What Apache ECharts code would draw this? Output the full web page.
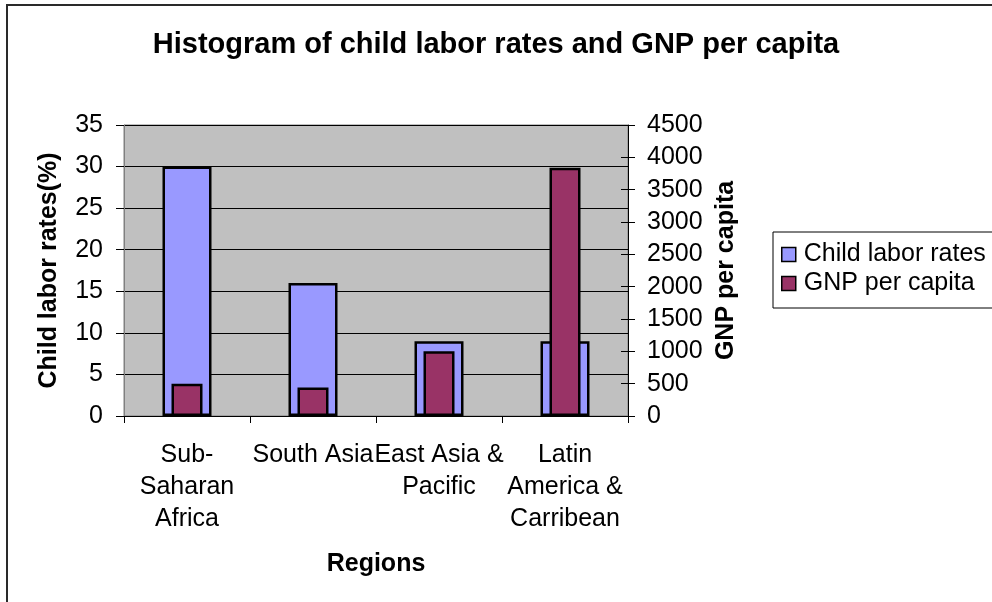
<!DOCTYPE html>
<html>
<head>
<meta charset="utf-8">
<script src="https://cdn.jsdelivr.net/npm/echarts@6/dist/echarts.min.js"></script>
<style>
  html, body { margin: 0; padding: 0; background: #fff; }
  #chart { width: 992px; height: 602px; }
</style>
</head>
<body>
<div id="chart"></div>
<script>
// Regions shown on the category axis (line breaks as drawn)
const regions = ['Sub-\nSaharan\nAfrica', 'South Asia', 'East Asia &\nPacific', 'Latin\nAmerica &\nCarribean'];
// Child labor rates, percent (left axis)
const childLaborRates = [30, 16, 9, 9];
// GNP per capita (right axis)
const gnpPerCapita = [500, 440, 1000, 3840];

const leftTicks = { min: 0, max: 35, interval: 5 };
const rightTicks = { min: 0, max: 4500, interval: 500 };

const FONT = '"Liberation Sans", Arial, sans-serif';
const LABEL_SIZE = 25;
const BLUE = '#9999FF';
const PLUM = '#993366';

const chart = echarts.init(document.getElementById('chart'), null, { renderer: 'canvas' });

const nameStyle = { fontFamily: FONT, fontSize: 25, fontWeight: 'bold', color: '#000' };

chart.setOption({
  animation: false,
  backgroundColor: '#ffffff',
  title: {
    text: 'Histogram of child labor rates and GNP per capita',
    left: 'center',
    top: 25,
    textStyle: { fontFamily: FONT, fontSize: 29, fontWeight: 'bold', color: '#000' }
  },
  legend: {
    orient: 'vertical',
    left: 773,
    top: 232,
    itemWidth: 14,
    itemHeight: 14,
    itemGap: 4,
    padding: [10, 12, 12, 8],
    borderColor: '#000',
    borderWidth: 1,
    backgroundColor: '#fff',
    icon: 'rect',
    itemStyle: { borderColor: '#000', borderWidth: 1.5 },
    textStyle: { fontFamily: FONT, fontSize: LABEL_SIZE, lineHeight: 25, color: '#000', padding: [0, 0, 0, 3] },
    data: ['Child labor rates', 'GNP per capita']
  },
  grid: {
    left: 124, right: 364, top: 125, bottom: 186,
    show: true,
    backgroundColor: '#C0C0C0',
    borderColor: '#808080',
    borderWidth: 1
  },
  graphic: [{
    type: 'rect',
    shape: { x: 7, y: 5, width: 1200, height: 800 },
    style: { fill: 'none', stroke: '#2a2a2a', lineWidth: 2 },
    silent: true,
    z: 100
  }],
  xAxis: [
    {
      type: 'category',
      data: regions,
      name: 'Regions',
      nameLocation: 'middle',
      nameGap: 136,
      nameTextStyle: nameStyle,
      axisLine: { lineStyle: { color: '#000', width: 1 } },
      axisTick: { show: true, length: 7, alignWithLabel: false, lineStyle: { color: '#000' } },
      axisLabel: {
        interval: 0,
        margin: 23,
        fontFamily: FONT,
        fontSize: LABEL_SIZE,
        lineHeight: 32,
        color: '#000'
      }
    },
    {
      // second category axis so the narrower GNP bars center on each region
      type: 'category',
      data: regions,
      show: false
    }
  ],
  yAxis: [
    {
      type: 'value',
      position: 'left',
      min: leftTicks.min, max: leftTicks.max, interval: leftTicks.interval,
      name: 'Child labor rates(%)',
      nameLocation: 'middle',
      nameGap: 62,
      nameTextStyle: nameStyle,
      axisLine: { show: true, lineStyle: { color: '#808080', width: 1 } },
      axisTick: { show: true, length: 8, lineStyle: { color: '#000' } },
      axisLabel: { margin: 21, fontFamily: FONT, fontSize: LABEL_SIZE, color: '#000' },
      splitLine: { show: true, lineStyle: { color: '#000', width: 1 } }
    },
    {
      type: 'value',
      position: 'right',
      min: rightTicks.min, max: rightTicks.max, interval: rightTicks.interval,
      name: 'GNP per capita',
      nameLocation: 'middle',
      nameGap: 85,
      nameTextStyle: nameStyle,
      axisLine: { show: true, lineStyle: { color: '#000', width: 1 } },
      axisTick: { show: true, length: 7, lineStyle: { color: '#000' } },
      axisLabel: {
        margin: 19, fontFamily: FONT, fontSize: LABEL_SIZE, color: '#000',
        formatter: v => String(v)
      },
      splitLine: { show: false }
    },
    {
      // inner half of the crossing ticks on the right axis
      type: 'value',
      position: 'right',
      min: rightTicks.min, max: rightTicks.max, interval: rightTicks.interval,
      axisLine: { show: false },
      axisTick: { show: true, inside: true, length: 7, lineStyle: { color: '#000' } },
      axisLabel: { show: false },
      splitLine: { show: false }
    }
  ],
  series: [
    {
      name: 'Child labor rates',
      type: 'bar',
      xAxisIndex: 0,
      yAxisIndex: 0,
      data: childLaborRates,
      barWidth: 49,
      itemStyle: { color: BLUE, borderColor: '#000', borderWidth: 2.5 },
      z: 2
    },
    {
      name: 'GNP per capita',
      type: 'bar',
      xAxisIndex: 1,
      yAxisIndex: 1,
      data: gnpPerCapita,
      barWidth: 31,
      itemStyle: { color: PLUM, borderColor: '#000', borderWidth: 2.5 },
      z: 3
    }
  ]
});
</script>
</body>
</html>
